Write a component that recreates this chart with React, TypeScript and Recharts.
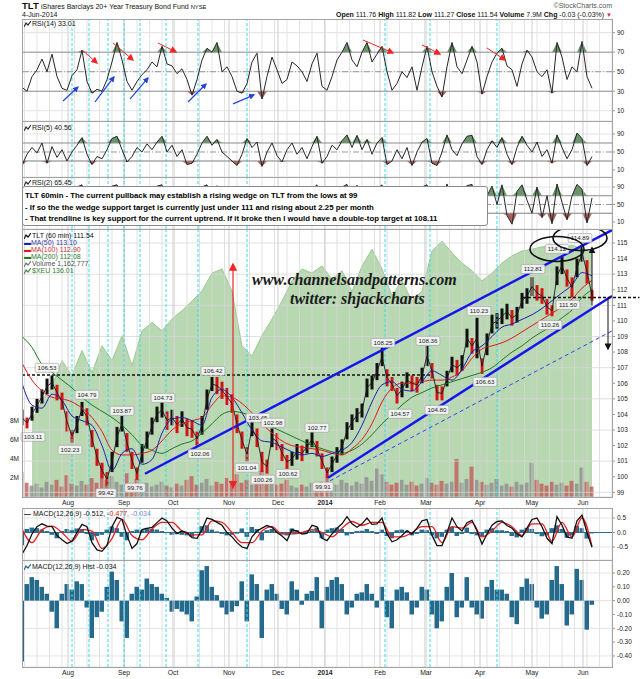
import React from "react";
import {
  ComposedChart,
  Line,
  Bar,
  Area,
  XAxis,
  YAxis,
  CartesianGrid,
  ReferenceLine,
  ReferenceDot,
  Cell,
} from "recharts";

const FONT = "'Liberation Sans', Arial, sans-serif";

// x is trading days counted from the first bar on the chart (early Jul 2013)
const X_DOMAIN: [number, number] = [0, 236];
const monthLabels = ["Aug", "Sep", "Oct", "Nov", "Dec", "2014", "Feb", "Mar", "Apr", "May", "Jun"];
const monthTicks = [18.4, 40.8, 60.4, 82.8, 102.4, 121.2, 143.2, 161.6, 183.2, 204, 224.4];
// cyan dashed marker days
const markedDays = [20, 26.8, 34.4, 40.8, 47.2, 57.6, 70.4, 90, 145.2, 163.2, 190];
const priceTicks = [99, 100, 101, 102, 103, 104, 105, 106, 107, 108, 109, 110, 111, 112, 113, 114, 115];
const volTicks = [2, 4, 6, 8];

// one sample every 2 trading days: [low, high] of TLT 60 min
const priceBars: [number, number][] = [
  [103.3, 104.3], [103.1, 103.8], [103.6, 104.5], [104.1, 105.0], [104.7, 105.6], [105.3, 106.3], [105.6, 106.5], [104.9, 105.9], [104.3, 105.4], [102.9, 104.2],
  [102.2, 103.0], [102.8, 103.9], [103.9, 104.8], [103.3, 104.4], [101.9, 103.0], [100.7, 101.8], [99.9, 100.9], [99.4, 100.3], [100.3, 101.6], [101.9, 103.2],
  [102.9, 103.9], [101.6, 102.8], [100.5, 101.6], [99.8, 100.6], [100.9, 102.1], [101.8, 102.9], [102.7, 103.8], [103.5, 104.5], [103.8, 104.8], [103.0, 104.2],
  [103.3, 104.3], [102.8, 103.9], [103.2, 104.2], [102.6, 103.7], [102.5, 103.6], [102.0, 102.9], [102.7, 103.9], [104.3, 105.6], [105.5, 106.4], [105.3, 106.4],
  [105.0, 106.1], [104.6, 105.7], [104.1, 105.3], [102.8, 104.0], [101.8, 102.9], [101.0, 101.9], [102.6, 103.6], [101.9, 103.1], [100.3, 101.6], [100.2, 101.1],
  [101.9, 103.1], [101.7, 102.8], [101.0, 102.1], [100.5, 101.4], [100.7, 101.6], [101.1, 102.1], [101.0, 102.0], [101.5, 102.4], [101.9, 102.9], [101.3, 102.3],
  [100.5, 101.5], [99.9, 100.6], [100.3, 101.3], [100.9, 101.9], [101.4, 102.4], [102.4, 103.5], [103.0, 104.0], [103.5, 104.4], [103.8, 104.7], [105.1, 106.3],
  [105.6, 106.5], [106.2, 107.3], [107.1, 108.3], [105.8, 106.9], [105.5, 106.4], [104.7, 105.7], [105.1, 106.1], [105.7, 106.7], [105.5, 106.5], [105.4, 106.4],
  [106.0, 107.0], [107.1, 108.4], [106.3, 107.3], [104.9, 105.9], [104.9, 105.8], [105.8, 106.8], [106.7, 107.7], [106.5, 107.5], [106.8, 107.8], [108.3, 109.5],
  [107.9, 108.9], [107.6, 110.2], [106.6, 107.6], [107.8, 109.2], [109.2, 110.4], [109.5, 110.5], [109.8, 110.8], [110.1, 111.1], [109.7, 110.7], [109.9, 110.9],
  [110.8, 111.8], [111.1, 112.1], [111.6, 112.8], [111.3, 112.3], [111.1, 112.1], [110.4, 111.4], [110.3, 111.0], [112.3, 113.5], [113.0, 114.1], [112.2, 113.3],
  [111.5, 112.8], [112.8, 114.0], [113.8, 114.9], [112.4, 113.9], [111.3, 112.0],
];

// volume in millions, same sampling
const volume = [
  2.6, 1.5, 1.2, 1.4, 1.0, 1.6, 1.3, 1.8, 1.1, 2.3,
  1.4, 1.2, 1.7, 1.3, 2.0, 1.5, 3.4, 1.8, 2.2, 1.6,
  1.3, 2.5, 1.4, 1.9, 1.2, 1.5, 1.1, 1.3, 1.6, 1.2,
  1.0, 1.4, 1.2, 1.8, 2.2, 1.3, 1.5, 1.9, 1.2, 1.6,
  1.4, 2.0, 1.7, 2.4, 1.5, 1.8, 1.3, 2.2, 2.8, 1.5,
  1.6, 1.3, 1.4, 1.8, 1.2, 1.0, 1.3, 1.1, 1.5, 1.2,
  1.6, 2.6, 1.4, 1.3, 1.8, 1.5, 1.2, 1.6, 1.4, 2.1,
  1.7, 3.0, 2.4, 1.6, 1.3, 1.5, 1.8, 1.3, 1.6, 1.2,
  1.4, 2.0, 1.5, 1.3, 1.7, 1.4, 1.6, 4.0, 1.5, 1.9,
  3.2, 1.8, 1.6, 1.3, 1.5, 1.9, 1.2, 1.4, 1.1, 1.6,
  1.3, 1.5, 3.6, 1.8, 1.4, 1.2, 1.6, 1.3, 1.5, 1.2,
  1.7, 1.4, 3.1, 1.6, 1.1,
];

// moving averages, one sample every 4 trading days
const ma50 = [
  106.0, 104.6, 104.4, 105.3, 104.9, 103.9, 103.6, 103.3, 102.0, 100.4,
  101.5, 101.8, 100.8, 101.1, 102.8, 103.7, 103.8, 103.6, 103.3, 105.1,
  105.6, 105.1, 104.1, 103.0, 102.3, 102.2, 101.9, 101.6, 101.4, 101.5,
  101.3, 101.5, 101.7, 102.2, 103.3, 104.8, 105.9, 106.1, 105.6, 105.5,
  106.1, 106.8, 106.5, 106.2, 106.9, 108.0, 108.4, 109.0, 109.6, 109.8,
  110.1, 110.4, 110.8, 111.3, 111.8, 112.3, 113.1, 112.9,
];
const ma100 = [
  107.3, 106.2, 105.5, 105.1, 105.0, 104.8, 104.4, 103.8, 102.9, 101.7,
  101.4, 101.4, 101.5, 101.7, 102.3, 103.0, 103.4, 103.6, 103.8, 104.6,
  105.2, 105.1, 104.7, 104.1, 103.4, 102.8, 102.3, 102.0, 101.9, 101.8,
  101.7, 101.5, 101.4, 101.8, 102.4, 103.4, 104.8, 105.7, 106.0, 106.0,
  106.1, 106.2, 106.2, 106.4, 106.8, 107.6, 108.2, 108.4, 108.6, 108.9,
  109.3, 109.7, 110.1, 110.5, 110.9, 111.4, 112.1, 112.6,
];
const ma200 = [
  109.0, 108.3, 107.2, 106.7, 106.2, 105.7, 105.1, 104.6, 104.2, 103.8,
  103.3, 102.7, 102.0, 101.7, 101.5, 101.8, 102.1, 102.3, 102.8, 103.4,
  104.0, 104.2, 104.1, 103.9, 103.6, 103.2, 102.9, 102.6, 102.3, 102.0,
  101.8, 101.6, 101.5, 101.7, 102.1, 102.7, 103.4, 104.0, 104.6, 105.1,
  105.4, 105.7, 105.9, 106.1, 106.3, 106.5, 106.7, 107.0, 107.5, 108.0,
  108.4, 108.9, 109.3, 109.7, 110.2, 110.7, 111.5, 112.0,
];

// $XEU, one sample every 4 trading days starting at day 4
const xeu = [
  107.9, 111.2, 113.7, 117.9, 115.4, 119.6, 115.9, 120.4, 117.9, 122.1,
  117.1, 122.9, 124.3, 122.9, 124.9, 126.3, 127.9, 129.6, 132.6, 133.3,
  129.6, 120.4, 118.7, 122.1, 124.9, 127.9, 131.3, 133.3, 132.6, 133.8,
  131.6, 133.0, 129.5, 133.8, 136.6, 133.3, 128.8, 131.3, 127.9, 129.6,
  136.3, 138.0, 136.0, 134.3, 133.0, 131.3, 132.6, 134.3, 135.5, 136.3,
  136.6, 137.0, 137.3, 136.6, 137.3, 136.6, 136.0,
];

const rsi14 = [
  34, 30, 45, 52, 63, 50, 68, 45, 33, 31,
  46, 52, 72, 40, 28, 32, 30, 42, 60, 80,
  62, 40, 31, 40, 47, 52, 60, 55, 76, 58,
  56, 48, 53, 42, 26, 42, 62, 74, 70, 80,
  50, 55, 45, 30, 28, 38, 60, 69, 22, 45,
  65, 52, 38, 42, 60, 56, 50, 40, 58, 69,
  35, 31, 45, 62, 70, 80, 62, 55, 70, 80,
  60, 68, 76, 50, 31, 38, 50, 44, 55, 31,
  55, 76, 50, 35, 24, 55, 80, 55, 48, 62,
  76, 60, 27, 45, 60, 69, 74, 56, 52, 35,
  58, 72, 65, 50, 45, 52, 28, 80, 65, 42,
  55, 50, 81, 45, 33,
];
const rsi5 = [
  20, 45, 60, 48, 70, 25, 62, 38, 55, 30,
  50, 65, 82, 45, 22, 40, 35, 55, 80, 85,
  55, 28, 40, 60, 50, 68, 55, 72, 85, 50,
  65, 40, 55, 22, 25, 45, 70, 85, 65, 78,
  50, 40, 30, 20, 45, 80, 60, 72, 18, 50,
  70, 42, 28, 55, 70, 45, 60, 35, 62, 85,
  25, 40, 65, 55, 75, 88, 60, 87, 55, 78,
  45, 70, 82, 22, 30, 55, 35, 60, 20, 50,
  72, 80, 25, 20, 50, 88, 55, 42, 68, 85,
  87, 40, 22, 55, 75, 60, 82, 45, 22, 60,
  85, 65, 50, 72, 40, 55, 25, 88, 60, 35,
  55, 92, 80, 20, 40,
];
const rsi2 = [
  15, 80, 60, 90, 30, 85, 70, 20, 55, 10,
  75, 90, 95, 25, 8, 60, 40, 85, 92, 95,
  70, 12, 60, 88, 50, 90, 65, 92, 95, 30,
  85, 20, 70, 5, 15, 60, 90, 95, 55, 93,
  25, 50, 10, 5, 70, 92, 40, 88, 4, 65,
  90, 30, 12, 75, 90, 35, 80, 20, 85, 95,
  10, 45, 88, 60, 90, 96, 50, 94, 30, 90,
  40, 85, 95, 5, 20, 80, 25, 85, 8, 60,
  90, 95, 15, 5, 60, 97, 45, 20, 85, 93,
  96, 30, 3, 70, 92, 50, 95, 25, 5, 80,
  95, 60, 30, 90, 20, 70, 6, 97, 55, 15,
  70, 96, 85, 8, 65,
];

const macd = [
  -0.75, -0.45, -0.05, 0.2, 0.3, 0.22, 0.2, -0.1, -0.25, -0.38,
  -0.3, 0.0, 0.28, 0.2, -0.35, -0.6, -0.65, -0.45, 0.2, 0.52,
  0.45, -0.1, -0.55, -0.38, 0.1, 0.14, 0.18, 0.34, 0.5, 0.4,
  0.15, -0.03, 0.05, 0.0, -0.18, -0.2, 0.1, 0.5, 0.45, 0.35,
  0.25, 0.0, -0.15, -0.35, -0.5, -0.55, -0.15, 0.05, 0.15, 0.24,
  0.18, 0.0, -0.12, -0.28, 0.1, 0.05, -0.05, -0.03, 0.25, 0.2,
  -0.2, -0.28, -0.05, 0.15, 0.3, 0.55, 0.3, 0.18, 0.3, 0.5,
  0.28, 0.3, 0.5, -0.05, -0.32, -0.25, -0.1, 0.07, -0.05, 0.15,
  0.4, 0.45, -0.1, -0.45, -0.45, 0.0, 0.5, 0.2, 0.05, 0.34,
  0.42, 0.05, -0.4, -0.05, 0.25, 0.38, 0.4, 0.24, 0.15, -0.05,
  -0.15, 0.15, 0.45, 0.5, 0.2, -0.2, -0.38, 0.55, 0.25, -0.15,
  -0.2, 0.4, 0.6, 0.0, -0.51,
];
// signal, one sample every 4 trading days
const macdSignal = [
  0.12, -0.35, 0.1, 0.22, 0.0, -0.3, 0.1, 0.05, -0.55, -0.2,
  0.45, -0.1, -0.25, 0.12, 0.35, 0.35, 0.05, -0.08, -0.08, 0.4,
  0.35, 0.0, -0.35, -0.35, 0.05, 0.2, -0.05, -0.05, 0.0, 0.1,
  0.0, -0.15, 0.15, 0.38, 0.25, 0.35, 0.35, -0.15, -0.15, 0.0,
  0.2, 0.2, -0.35, 0.2, 0.15, 0.35, -0.15, 0.05, 0.35, 0.2,
  -0.1, 0.3, 0.3, -0.3, 0.35, -0.15, 0.5, -0.48,
];
const macdHist = [
  -0.44, 0.12, 0.17, 0.15, 0.1, 0.05, -0.08, -0.2, 0.05, 0.12,
  0.08, 0.14, 0.12, -0.05, -0.27, -0.12, -0.08, 0.1, 0.21, 0.15,
  -0.15, -0.27, 0.05, 0.1, 0.08, 0.16, 0.12, 0.1, 0.05, 0.02,
  -0.08, -0.06, -0.08, -0.1, -0.15, 0.03, 0.22, 0.25, 0.1, 0.04,
  -0.05, -0.1, -0.08, -0.04, 0.14, -0.15, 0.19, 0.12, -0.27, 0.08,
  0.12, 0.05, -0.06, -0.1, 0.14, 0.08, -0.03, 0.05, 0.07, 0.17,
  -0.2, 0.1, 0.15, 0.17, 0.12, -0.1, -0.05, 0.05, 0.06, 0.12,
  0.05, -0.05, 0.1, -0.12, -0.2, 0.08, 0.1, 0.06, -0.1, -0.05,
  0.1, 0.08, -0.1, -0.2, -0.15, 0.1, 0.2, -0.12, -0.05, 0.17,
  -0.05, -0.1, -0.13, 0.1, 0.15, 0.08, 0.08, 0.05, -0.12, -0.17,
  0.1, 0.16, 0.12, -0.05, -0.13, -0.1, 0.15, 0.25, 0.12, -0.18,
  -0.1, 0.23, 0.15, -0.21, -0.03,
];

// price tags written on the chart: text, day, price
const priceTags = [
  { text: "103.11", t: 4.4, p: 102.56 }, { text: "106.53", t: 10, p: 106.99 },
  { text: "104.79", t: 26, p: 105.26 }, { text: "102.23", t: 19.2, p: 101.73 },
  { text: "103.87", t: 40, p: 104.23 }, { text: "99.42", t: 33.6, p: 98.95 },
  { text: "99.76", t: 45.2, p: 99.29 }, { text: "104.73", t: 56.4, p: 105.06 },
  { text: "102.06", t: 71.2, p: 101.47 }, { text: "106.42", t: 76.4, p: 106.79 },
  { text: "103.45", t: 94.4, p: 103.78 }, { text: "102.98", t: 100.4, p: 103.46 },
  { text: "101.04", t: 90, p: 100.58 }, { text: "100.26", t: 96.4, p: 99.81 },
  { text: "100.62", t: 106.4, p: 100.19 }, { text: "102.77", t: 118, p: 103.14 },
  { text: "99.91", t: 120.4, p: 99.36 }, { text: "104.57", t: 151.2, p: 104.04 },
  { text: "104.80", t: 166, p: 104.29 }, { text: "106.63", t: 185.2, p: 106.09 },
  { text: "108.25", t: 144.4, p: 108.59 }, { text: "108.36", t: 162.4, p: 108.72 },
  { text: "110.23", t: 182.8, p: 110.64 }, { text: "112.81", t: 204.4, p: 113.33 },
  { text: "110.26", t: 211.2, p: 109.74 }, { text: "111.50", t: 218.4, p: 111.03 },
  { text: "114.12", t: 214, p: 114.62 }, { text: "114.89", t: 223.2, p: 115.32 },
];
const circled = [{ t: 214, p: 114.62 }, { t: 223.2, p: 115.32 }];

// drawn annotations in day / value units
const wedgeLines = [
  [{ x: 49.2, y: 100.19 }, { x: 236, y: 115.83 }],
  [{ x: 122.4, y: 99.94 }, { x: 236, y: 111.6 }],
];
const wedgeDashed = [{ x: 123.2, y: 99.74 }, { x: 236, y: 109.36 }];
const rsiRedArrows = [
  [24, 72.3, 30, 58.9], [36.4, 79.4, 44.4, 62], [54.4, 79.4, 61.6, 70.2],
  [136.4, 82.5, 148.4, 69.2], [160, 77.4, 167.2, 68.1], [186, 74.3, 193.2, 62],
];
const rsiBlueArrows = [
  [16.4, 20, 22.4, 34.3], [29.2, 19, 36.8, 44.6], [43.2, 22, 50.4, 43.6],
  [66.4, 19, 73.6, 37.4], [84.4, 17, 92.8, 26.3],
];

const axisTick = { fontSize: 6.5, fill: "#222", fontFamily: FONT };
const weekTicks = Array.from({ length: 48 }, (_, k) => 1 + k * 5);

const vGrid = (p: any) => {
  const ax = p && p.xAxis;
  if (ax && typeof ax.scale === "function") return weekTicks.map((t) => ax.scale(t));
  const o = p.offset;
  return weekTicks.map((t) => o.left + ((t - X_DOMAIN[0]) / (X_DOMAIN[1] - X_DOMAIN[0])) * o.width);
};

const cyanLines = () =>
  markedDays.map((t) => (
    <ReferenceLine key={"c" + t} x={t} stroke="#36dcea" strokeDasharray="3 2" />
  ));
const monthLines = () =>
  monthTicks.map((t) => <ReferenceLine key={"m" + t} x={t} stroke="#cdcdcd" />);

const MonthTick = (props: any) => {
  const { x, y, payload } = props;
  const idx = monthTicks.indexOf(payload.value);
  const lbl = monthLabels[idx] || "";
  return (
    <text x={x} y={y + 8} textAnchor="middle" fontSize={6.8} fontFamily={FONT}
      fontWeight={lbl === "2014" ? 700 : 400} fill="#222">
      {lbl}
    </text>
  );
};

const tagShape = (text: string) => (props: any) => {
  const { cx, cy } = props;
  const w = text.length * 3.3 + 4;
  return (
    <g>
      <rect x={cx - w / 2} y={cy - 4.5} width={w} height={9} rx={1.5} fill="#f6f6f6" fillOpacity={0.9} stroke="#9a9a9a" strokeWidth={0.6} />
      <text x={cx} y={cy + 2.3} textAnchor="middle" fontSize={6.2} fill="#222" fontFamily={FONT}>{text}</text>
    </g>
  );
};
const ellipseShape = (props: any) => (
  <ellipse cx={props.cx} cy={props.cy} rx={27} ry={12.5} fill="none" stroke="#111" strokeWidth={1.6} />
);

function RsiPanel({ top, height, values, domain, children }: any) {
  const data = values.map((v: number, i: number) => ({
    t: i * 2, v, hi: Math.max(v, 70), lo: Math.min(v, 30),
  }));
  return (
    <div style={{ position: "absolute", left: 0, top }}>
      <ComposedChart width={640} height={height} data={data} margin={{ top: 0, right: 0, bottom: 0, left: 22 }}>
        <CartesianGrid stroke="#e3e3e3" verticalCoordinatesGenerator={vGrid} />
        <XAxis type="number" dataKey="t" domain={X_DOMAIN} allowDataOverflow hide />
        <YAxis orientation="right" width={28} domain={domain} allowDataOverflow ticks={[10, 30, 50, 70, 90]}
          tick={axisTick} tickSize={3} tickMargin={2} axisLine={false} tickLine={{ stroke: "#999" }} />
        {monthLines()}
        {cyanLines()}
        <ReferenceLine y={70} stroke="#8a8a8a" />
        <ReferenceLine y={30} stroke="#8a8a8a" />
        <ReferenceLine y={50} stroke="#999" strokeDasharray="6 2 1 2" />
        <Area dataKey="hi" baseValue={70} type="linear" stroke="none" fill="#6a946a" fillOpacity={1} isAnimationActive={false} />
        <Area dataKey="lo" baseValue={30} type="linear" stroke="none" fill="#a96262" fillOpacity={1} isAnimationActive={false} />
        <Line dataKey="v" type="linear" stroke="#262626" strokeWidth={1} dot={false} isAnimationActive={false} />
        {children}
      </ComposedChart>
    </div>
  );
}

const label = (left: number, top: number, content: React.ReactNode, extra: any = {}) => (
  <div style={{ position: "absolute", left, top, fontSize: 7, lineHeight: "8px", fontFamily: FONT, color: "#111", whiteSpace: "nowrap", ...extra }}>
    {content}
  </div>
);

const Icon = ({ color = "#333" }: { color?: string }) => (
  <svg width={7} height={6} style={{ marginRight: 1, verticalAlign: "-0.5px" }}>
    <polyline points="0,6 2,2 4,4 7,0" fill="none" stroke={color} strokeWidth={1.2} />
  </svg>
);

export default function App() {
  const priceData = priceBars.map((r, i) => {
    const mid = (r[0] + r[1]) / 2;
    const prev = i > 0 ? (priceBars[i - 1][0] + priceBars[i - 1][1]) / 2 : mid;
    return { t: i * 2, range: r, mid, vol: volume[i], up: mid >= prev };
  });
  const lineData = (arr: number[], step: number, start = 0) => arr.map((v, i) => ({ t: start + i * step, v }));
  const macdData = macd.map((v, i) => ({ t: i * 2, v, h: macdHist[i] }));

  const frames = [[19, 102], [121, 56], [177, 52], [229, 268], [508, 52], [560, 107]];
  const mark = { fontFamily: "'Liberation Serif', serif", fontStyle: "italic", fontWeight: 700, fontSize: 16, lineHeight: "14px", color: "#1a1a1a" };

  return (
    <div style={{ position: "absolute", left: 0, top: 0, width: 640, height: 679, background: "#fff", fontFamily: FONT, overflow: "hidden" }}>
      <svg width={0} height={0} style={{ position: "absolute" }}>
        <defs>
          <marker id="hRed" viewBox="0 0 10 10" refX="8" refY="5" markerWidth="7" markerHeight="7" orient="auto-start-reverse">
            <path d="M0,0 L10,5 L0,10 z" fill="#f02424" />
          </marker>
          <marker id="hBlue" viewBox="0 0 10 10" refX="8" refY="5" markerWidth="5" markerHeight="5" orient="auto-start-reverse">
            <path d="M0,0 L10,5 L0,10 z" fill="#2244dd" />
          </marker>
          <marker id="hBlack" viewBox="0 0 10 10" refX="8" refY="5" markerWidth="7" markerHeight="7" orient="auto-start-reverse">
            <path d="M0,0 L10,5 L0,10 z" fill="#111" />
          </marker>
        </defs>
      </svg>

      {/* header */}
      {label(22, 1, "TLT", { fontSize: 9.5, fontWeight: 700, lineHeight: "10px" })}
      {label(41, 3, <>iShares Barclays 20+ Year Treasury Bond Fund <span style={{ fontSize: 5.8 }}>NYSE</span></>)}
      {label(22, 11, "4-Jun-2014")}
      {label(0, 2, "©StockCharts.com", { left: undefined, right: 28, color: "#555" })}
      {label(0, 11, <>
        <b>Open</b> 111.76 <b>High</b> 111.82 <b>Low</b> 111.27 <b>Close</b> 111.54 <b>Volume</b> 7.9M <b>Chg</b> -0.03 (-0.03%) <span style={{ color: "#c33", fontSize: 6 }}>▼</span>
      </>, { left: undefined, right: 28 })}

      <RsiPanel top={19} height={102} values={rsi14} domain={[-0.5, 104]}>
        {rsiRedArrows.map((a, i) => (
          <ReferenceLine key={"ra" + i} segment={[{ x: a[0], y: a[1] }, { x: a[2], y: a[3] }]} stroke="#f02424" strokeWidth={1} markerEnd="url(#hRed)" />
        ))}
        {rsiBlueArrows.map((a, i) => (
          <ReferenceLine key={"ba" + i} segment={[{ x: a[0], y: a[1] }, { x: a[2], y: a[3] }]} stroke="#2244dd" strokeWidth={1.2} markerEnd="url(#hBlue)" />
        ))}
      </RsiPanel>
      <RsiPanel top={121} height={56} values={rsi5} domain={[-5.6, 118.9]} />
      <RsiPanel top={177} height={52} values={rsi2} domain={[-6, 112.9]} />

      {/* main panel: background layer ($XEU + volume) */}
      <div style={{ position: "absolute", left: 0, top: 229 }}>
        <ComposedChart width={640} height={279} data={priceData} margin={{ top: 0, right: 28, bottom: 11, left: 0 }}>
          <XAxis type="number" dataKey="t" domain={X_DOMAIN} allowDataOverflow hide />
          <YAxis orientation="left" width={22} domain={[0, 28.2]} allowDataOverflow ticks={volTicks}
            tickFormatter={(v: number) => `${v}M`} tick={axisTick} tickSize={0} tickMargin={3} axisLine={false} tickLine={false} />
          <YAxis yAxisId="x" hide domain={[95, 140]} allowDataOverflow />
          <Area yAxisId="x" data={lineData(xeu, 4, 4)} dataKey="v" type="linear" stroke="#8cc080" strokeWidth={0.8}
            fill="#7db872" fillOpacity={0.55} isAnimationActive={false} />
          <Bar dataKey="vol" barSize={4} isAnimationActive={false}>
            {priceData.map((d, i) => (
              <Cell key={i} fill={d.up ? "#8e8e8e" : "#c25b5b"} fillOpacity={0.8} />
            ))}
          </Bar>
        </ComposedChart>
      </div>

      {/* main panel: price layer */}
      <div style={{ position: "absolute", left: 0, top: 229 }}>
        <ComposedChart width={640} height={279} data={priceData} margin={{ top: 0, right: 0, bottom: 0, left: 22 }}>
          <CartesianGrid stroke="#d6d6d6" strokeOpacity={0.75} verticalCoordinatesGenerator={vGrid} />
          <XAxis type="number" dataKey="t" domain={X_DOMAIN} allowDataOverflow ticks={monthTicks} interval={0}
            tick={(p: any) => <MonthTick {...p} />} tickLine={false} axisLine={false} height={11} tickSize={0} tickMargin={0} />
          <YAxis orientation="right" width={28} domain={[98.7, 115.9]} allowDataOverflow ticks={priceTicks}
            tick={axisTick} tickSize={3} tickMargin={2} axisLine={false} tickLine={{ stroke: "#999" }} />
          {monthLines()}
          {cyanLines()}
          <ReferenceLine segment={[{ x: 0, y: 106.53 }, { x: 163.2, y: 106.53 }]} stroke="#111" strokeWidth={1.3} strokeDasharray="3 2" />
          <Line data={lineData(ma200, 4)} dataKey="v" type="monotone" stroke="#1d7a1d" strokeWidth={1} dot={false} isAnimationActive={false} />
          <Line data={lineData(ma100, 4)} dataKey="v" type="monotone" stroke="#e01818" strokeWidth={1} dot={false} isAnimationActive={false} />
          <Line data={lineData(ma50, 4)} dataKey="v" type="monotone" stroke="#1c1cae" strokeWidth={1} dot={false} isAnimationActive={false} />
          <Line dataKey="mid" type="linear" stroke="#1a1a1a" strokeWidth={0.9} dot={false} isAnimationActive={false} />
          <Bar dataKey="range" barSize={3} isAnimationActive={false}>
            {priceData.map((d, i) => (
              <Cell key={i} fill={d.up ? "#111" : "#d41414"} />
            ))}
          </Bar>
          {wedgeLines.map((s, i) => (
            <ReferenceLine key={"w" + i} segment={s} stroke="#1515ee" strokeWidth={2.4} ifOverflow="visible" />
          ))}
          <ReferenceLine segment={wedgeDashed} stroke="#3344ee" strokeWidth={1} strokeDasharray="4 3" />
          <ReferenceLine segment={[{ x: 200.4, y: 111.5 }, { x: 247, y: 111.5 }]} stroke="#111" strokeWidth={1.4} strokeDasharray="3 2" ifOverflow="visible" />
          <ReferenceLine segment={[{ x: 84.4, y: 99.3 }, { x: 84.4, y: 113.65 }]} stroke="#f02424" strokeWidth={1.2} markerStart="url(#hRed)" markerEnd="url(#hRed)" />
          <ReferenceLine segment={[{ x: 228, y: 111.0 }, { x: 228, y: 114.7 }]} stroke="#111" strokeWidth={1} markerEnd="url(#hBlack)" />
          <ReferenceLine segment={[{ x: 234.4, y: 111.5 }, { x: 234.4, y: 108.2 }]} stroke="#111" strokeWidth={1} markerEnd="url(#hBlack)" />
          {priceTags.map((d) => (
            <ReferenceDot key={d.text} x={d.t} y={d.p} r={0} ifOverflow="visible" shape={tagShape(d.text)} />
          ))}
          {circled.map((d, i) => (
            <ReferenceDot key={"e" + i} x={d.t} y={d.p} r={0} ifOverflow="visible" shape={ellipseShape} />
          ))}
        </ComposedChart>
      </div>

      {/* MACD */}
      <div style={{ position: "absolute", left: 0, top: 508 }}>
        <ComposedChart width={640} height={52} data={macdData} margin={{ top: 0, right: 0, bottom: 0, left: 22 }}>
          <CartesianGrid stroke="#e3e3e3" verticalCoordinatesGenerator={vGrid} />
          <XAxis type="number" dataKey="t" domain={X_DOMAIN} allowDataOverflow hide />
          <YAxis orientation="right" width={28} domain={[-0.948, 0.845]} allowDataOverflow ticks={[0.5, 0, -0.5]}
            tickFormatter={(v: number) => v.toFixed(1)} tick={axisTick} tickSize={3} tickMargin={2} axisLine={false} tickLine={{ stroke: "#999" }} />
          {monthLines()}
          {cyanLines()}
          <Bar dataKey="h" barSize={5} fill="#2b6d8e" isAnimationActive={false} />
          <ReferenceLine y={0} stroke="#2b6d8e" strokeWidth={1.2} />
          <Line data={lineData(macdSignal, 4)} dataKey="v" type="monotone" stroke="#e42020" strokeWidth={1.3} dot={false} isAnimationActive={false} />
          <Line dataKey="v" type="linear" stroke="#111" strokeWidth={1.3} dot={false} isAnimationActive={false} />
        </ComposedChart>
      </div>

      {/* MACD histogram */}
      <div style={{ position: "absolute", left: 0, top: 560 }}>
        <ComposedChart width={640} height={119} data={macdData} margin={{ top: 0, right: 0, bottom: 0, left: 22 }}>
          <CartesianGrid stroke="#e3e3e3" verticalCoordinatesGenerator={vGrid} />
          <XAxis type="number" dataKey="t" domain={X_DOMAIN} allowDataOverflow ticks={monthTicks} interval={0}
            tick={(p: any) => <MonthTick {...p} />} tickLine={false} axisLine={false} height={12} tickSize={0} tickMargin={0} />
          <YAxis orientation="right" width={28} domain={[-0.48, 0.294]} allowDataOverflow ticks={[0.2, 0.1, 0, -0.1, -0.2, -0.3, -0.4]}
            tickFormatter={(v: number) => v.toFixed(2)} tick={axisTick} tickSize={3} tickMargin={2} axisLine={false} tickLine={{ stroke: "#999" }} />
          {monthLines()}
          {cyanLines()}
          <Bar dataKey="h" barSize={5} fill="#236a8c" isAnimationActive={false} />
        </ComposedChart>
      </div>

      {frames.map(([top, h], i) => (
        <div key={i} style={{ position: "absolute", left: 22, top, width: 591, height: h + 1, boxSizing: "border-box", border: "1px solid #a3a3a3", pointerEvents: "none" }} />
      ))}

      {/* panel legends */}
      {label(24, 20, <><Icon />RSI(14) 33.01</>)}
      {label(24, 124, <><Icon />RSI(5) 40.56</>)}
      {label(24, 179, <><Icon />RSI(2) 65.45</>)}
      {label(24, 232, <><Icon color="#111" />TLT (60 min) 111.54</>, { lineHeight: "7px" })}
      {label(24, 239, <><span style={{ color: "#1c1cae" }}>▬</span><span style={{ color: "#3a3aa8" }}>MA(50) 113.10</span></>, { lineHeight: "7px" })}
      {label(24, 246, <><span style={{ color: "#e01818" }}>▬</span><span style={{ color: "#d03030" }}>MA(100) 112.90</span></>, { lineHeight: "7px" })}
      {label(24, 253, <><span style={{ color: "#1d7a1d" }}>▬</span><span style={{ color: "#2d7a2d" }}>MA(200) 112.08</span></>, { lineHeight: "7px" })}
      {label(24, 260, <><Icon color="#777" /><span style={{ color: "#555" }}>Volume 1,162,777</span></>, { lineHeight: "7px" })}
      {label(24, 267, <><Icon color="#4a8a4a" /><span style={{ color: "#3a7a3a" }}>$XEU 136.01</span></>, { lineHeight: "7px" })}
      {label(24, 510, <><span style={{ fontWeight: 700 }}>—</span> MACD(12,26,9) -0.512, <span style={{ color: "#e02020" }}>-0.477,</span> <span style={{ color: "#7a8ae0" }}>-0.034</span></>)}
      {label(24, 563, <><Icon color="#236a8c" />MACD(12,26,9) Hist -0.034</>)}

      {/* comment box */}
      <div style={{
        position: "absolute", left: 22, top: 186, width: 466, height: 40, boxSizing: "border-box",
        border: "1px solid #8a8a8a", borderRadius: 3, background: "#fff", fontFamily: FONT, fontWeight: 700,
        fontSize: 7.8, lineHeight: "11.6px", padding: "3px 2px", color: "#000", whiteSpace: "nowrap",
      }}>
        <div>TLT 60min - The current pullback may establish a rising wedge on TLT from the lows at 99</div>
        <div>- If so the the wedge support target is currently just under 111 and rising about 2.25 per month</div>
        <div>- That trendline is key support for the current uptrend. If it broke then I would have a double-top target at 108.11</div>
      </div>

      {/* watermark */}
      {label(252, 273, "www.channelsandpatterns.com", mark)}
      {label(290, 292, "twitter: shjackcharts", mark)}
    </div>
  );
}
